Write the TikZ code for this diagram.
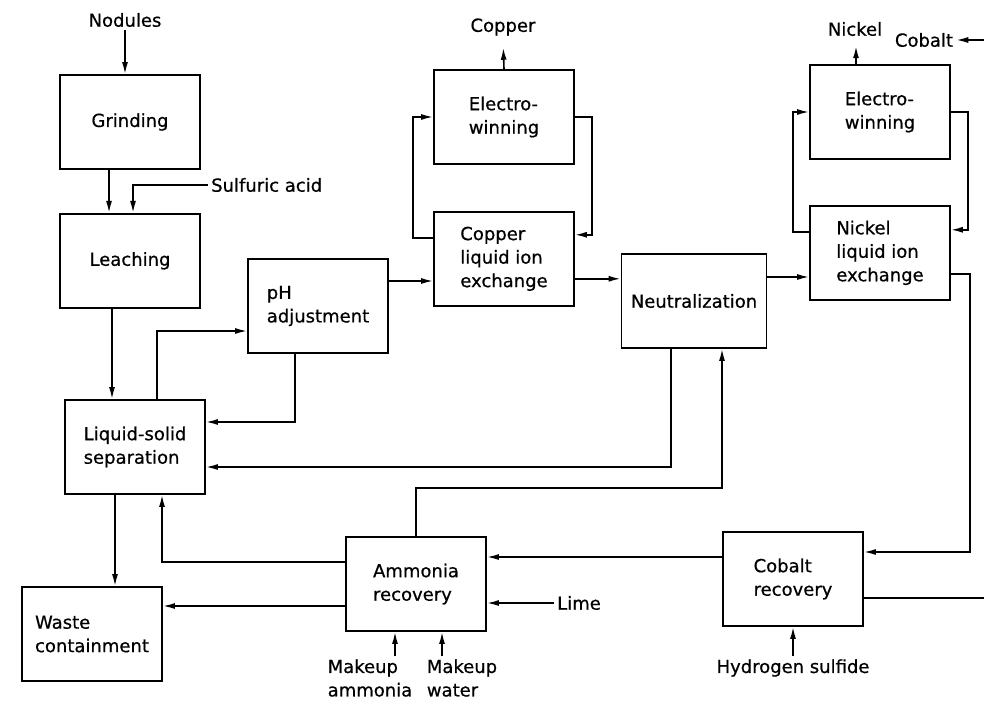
\documentclass[tikz,border=0pt]{standalone}
\usepackage{fontspec}
\setmainfont{DejaVu Sans}[FakeBold=0.6]
\usetikzlibrary{positioning, arrows.meta}

\begin{document}
\begin{tikzpicture}[x=1pt, y=-1pt,
    every node/.style={font=\fontsize{18}{23.5}\selectfont},
    box/.style={draw, line width=1.8pt, align=left, inner sep=2pt,
      minimum width=140pt, minimum height=94pt},
    lbl/.style={align=left, inner sep=3pt},
    flow/.style={-{Latex[length=12pt,width=6pt]}, line width=1.6pt}]
  \useasboundingbox (0,0) rectangle (984,703);
  \clip (0,0) rectangle (984,703);

  % process blocks
  \node[box] (grind) at (130,122) {Grinding};
  \node[box, below=43pt of grind] (leach) {Leaching};
  \node[box] (lss) at (135,447) {Liquid-solid\\separation};
  \node[box] (ph) at (318,306) {pH\\adjustment};
  \node[box] (waste) at (92,634) {Waste\\containment};
  \node[box] (cuew) at (504,117) {Electro-\\winning};
  \node[box, below=46pt of cuew] (culix) {Copper\\liquid ion\\exchange};
  \node[box, minimum width=145pt] (neut) at (694,301) {Neutralization};
  \node[box] (niew) at (880,112) {Electro-\\winning};
  \node[box, below=45pt of niew] (nilix) {Nickel\\liquid ion\\exchange};
  \node[box] (amm) at (416,584) {Ammonia\\recovery};
  \node[box] (cob) at (793,579) {Cobalt\\recovery};

  % feeds and products
  \node[lbl] (nod) at (125,20) {Nodules};
  \node[lbl, anchor=west] (sulf) at (208,185) {Sulfuric acid};
  \node[lbl] (copper) at (503,27) {Copper};
  \node[lbl] (nickel) at (855,29) {Nickel};
  \node[lbl] (cobalt) at (924,40) {Cobalt};
  \node[lbl, anchor=west] (lime) at (554,603) {Lime};
  \node[lbl] (mkam) at (370,678) {Makeup\\ammonia};
  \node[lbl] (mkwa) at (462,678) {Makeup\\water};
  \node[lbl] (hs) at (793,668) {Hydrogen sulfide};

  % main line
  \draw[flow] (nod.south) -- (nod.south |- grind.north);
  \draw[flow] ([xshift=-21pt]grind.south) -- ([xshift=-21pt]grind.south |- leach.north);
  \draw[flow] (sulf.west) -| ([xshift=3pt]leach.north);
  \draw[flow] ([xshift=-18pt]leach.south) -- ([xshift=-18pt]leach.south |- lss.north);
  \draw[flow] ([xshift=22pt]lss.north) |- ([yshift=-25pt]ph.west);
  \draw[flow] ([xshift=-23pt]ph.south) |- ([yshift=25pt]lss.east);
  \draw[flow] ([yshift=25pt]ph.east) -- ([yshift=25pt]ph.east -| culix.west);
  \draw[flow] ([yshift=-20pt]culix.east) -- ([yshift=-20pt]culix.east -| neut.west);
  \draw[flow] ([yshift=24pt]neut.east) -- ([yshift=24pt]neut.east -| nilix.west);
  \draw[flow] ([xshift=-20pt]lss.south) -- ([xshift=-20pt]lss.south |- waste.north);

  % copper circuit
  \draw[flow] ([yshift=21pt]culix.west) -- ++(-20,0) |- (cuew.west);
  \draw[flow] (cuew.east) -- ++(17,0) |- ([yshift=24pt]culix.east);
  \draw[flow, shorten >=9pt] (cuew.north) -- (copper.south);

  % nickel circuit
  \draw[flow] ([yshift=21pt]nilix.west) -- ++(-16,0) |- (niew.west);
  \draw[flow] (niew.east) -- ++(17,0) |- ([yshift=23pt]nilix.east);
  \draw[flow, shorten >=7pt] ([xshift=-24pt]niew.north) -- ([xshift=-24pt]niew.north |- nickel.south);
  \draw[flow] ([yshift=-21pt]nilix.east) -- ++(19,0) |- ([yshift=27pt]cob.east);

  % recovery and returns
  \draw[flow] ([yshift=-19pt]cob.east) -- ++(135,0) |- (cobalt.east);
  \draw[flow] ([yshift=22pt]cob.west) -- ([yshift=22pt]cob.west -| amm.east);
  \draw[flow] (hs.north) -- (cob.south);
  \draw[flow] (amm.north) -- ++(0,-48) -| ([xshift=28pt]neut.south);
  \draw[flow] ([xshift=-23pt]neut.south) |- ([yshift=-20pt]lss.east);
  \draw[flow] ([yshift=22pt]amm.west) -| ([xshift=27pt]lss.south);
  \draw[flow] ([yshift=-22pt]amm.west) -- ([yshift=-22pt]amm.west -| waste.east);
  \draw[flow] (lime.west) -- (lime.west -| amm.east);
  \draw[flow] ([xshift=-21pt]amm.south |- mkam.north) -- ([xshift=-21pt]amm.south);
  \draw[flow] ([xshift=26pt]amm.south |- mkwa.north) -- ([xshift=26pt]amm.south);
\end{tikzpicture}
\end{document}
